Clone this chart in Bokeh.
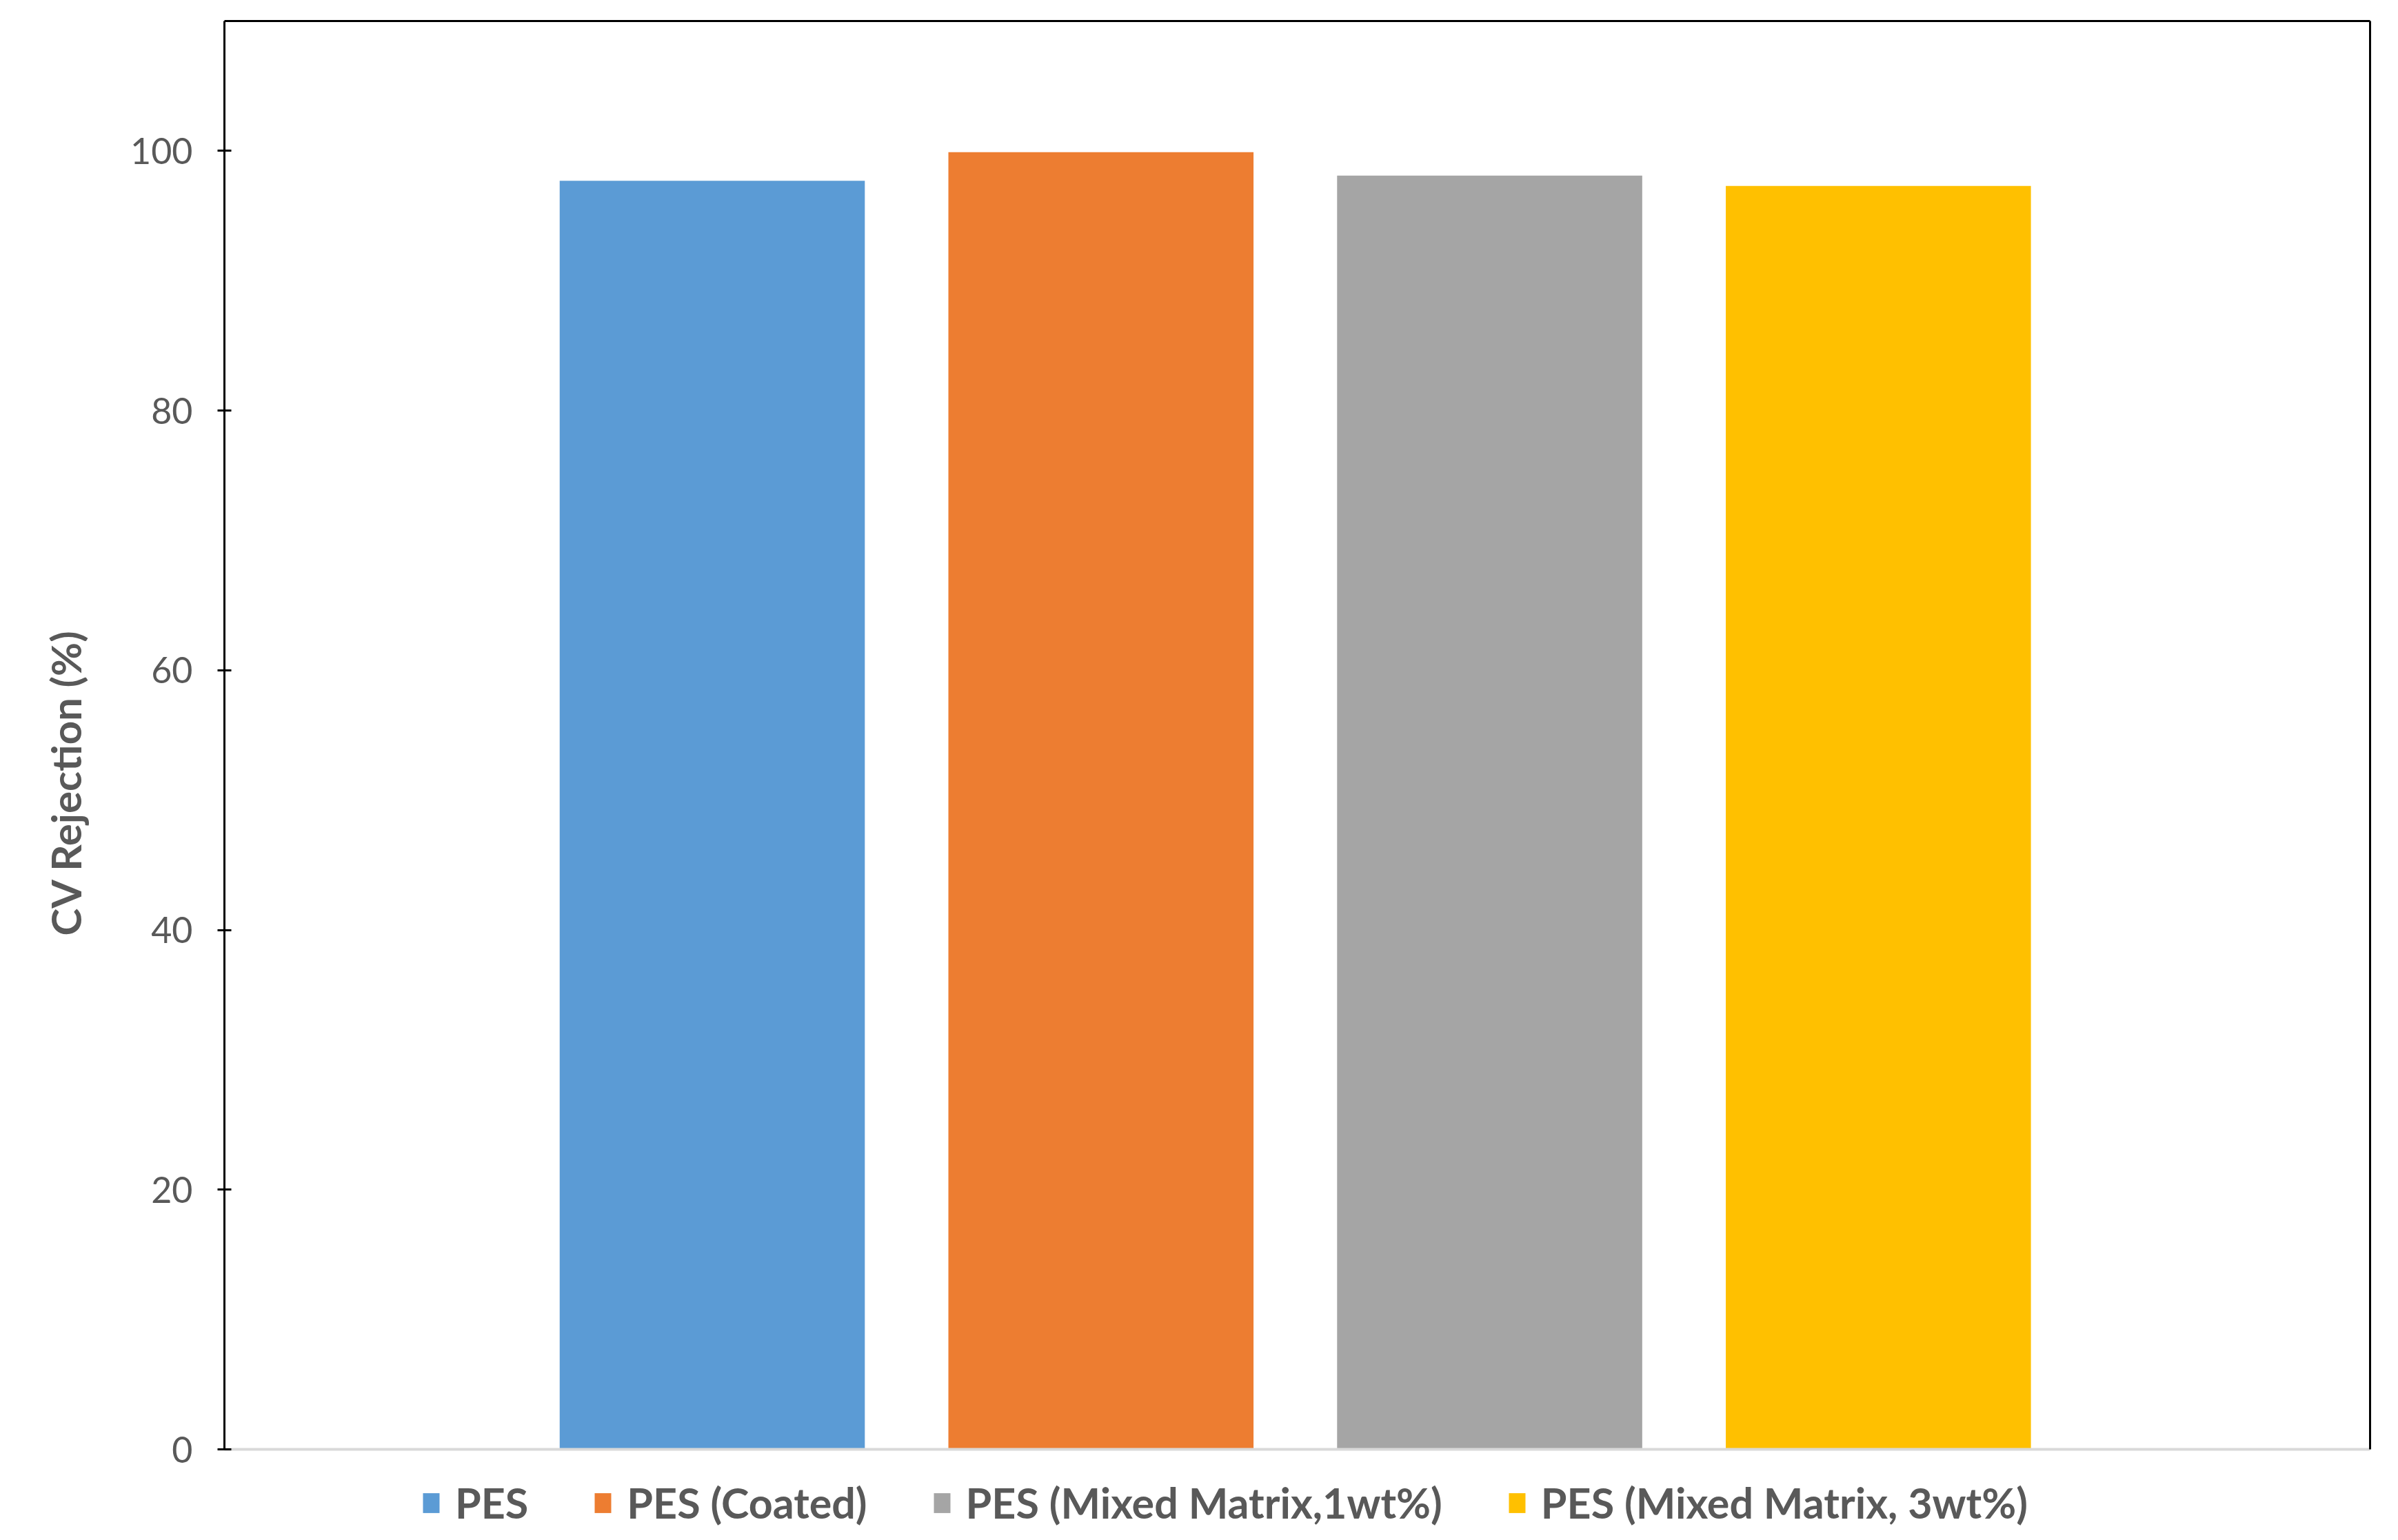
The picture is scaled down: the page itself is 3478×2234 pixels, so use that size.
from bokeh.plotting import figure
from bokeh.layouts import column
from bokeh.models import ColumnDataSource, Range1d, LinearAxis, Legend, LegendItem, FixedTicker, Title
from bokeh.embed import file_html
from bokeh.resources import INLINE

# ---- data ----
series = ["PES", "PES (Coated)", "PES (Mixed Matrix,1wt%)", "PES (Mixed Matrix, 3wt%)"]
rejection = [97.7, 99.9, 98.1, 97.3]
colors = ["#5B9BD5", "#ED7D31", "#A5A5A5", "#FFC000"]
y_ticks = [0, 20, 40, 60, 80, 100]
y_label = "CV Rejection (%)"

FONT = "Lato"
TXT = "#595959"

p = figure(width=3460, height=2132, output_backend="svg", toolbar_location=None,
           x_range=Range1d(-1.255, 4.265), y_range=Range1d(0, 110),
           min_border_left=321, min_border_right=23, min_border_top=30, min_border_bottom=30)
p.outline_line_color = None
p.xgrid.visible = False
p.ygrid.visible = False

for i, (s, v, c) in enumerate(zip(series, rejection, colors)):
    src = ColumnDataSource(dict(x=[i], top=[v]))
    p.vbar(x="x", top="top", width=0.785, bottom=0, source=src,
           fill_color=c, line_color=None)

# y axis
ya = p.yaxis[0]
ya.ticker = FixedTicker(ticks=y_ticks)
ya.minor_tick_line_color = None
ya.axis_line_color = "black"
ya.axis_line_width = 3
ya.major_tick_line_color = "black"
ya.major_tick_line_width = 3
ya.major_tick_in = 10
ya.major_tick_out = 10
ya.major_label_text_font = FONT
ya.major_label_text_font_size = "52px"
ya.major_label_text_color = TXT
ya.major_label_standoff = 36

# y-axis title (as a side title so it can be offset along the axis)
yt = Title(text=y_label, align="left", offset=745,
           text_font=FONT, text_font_size="60px", text_font_style="bold",
           text_color=TXT)
try:
    yt.standoff = 112
except Exception:
    pass
p.add_layout(yt, "left")

# x axis (just a light baseline)
xa = p.xaxis[0]
xa.ticker = FixedTicker(ticks=[])
xa.major_tick_line_color = None
xa.minor_tick_line_color = None
xa.major_label_text_font_size = "0px"
xa.major_label_standoff = 0
xa.axis_line_color = "#D9D9D9"
xa.axis_line_width = 4

# frame lines on top and right
for side in ("right", "above"):
    ax = LinearAxis(ticker=FixedTicker(ticks=[]), major_tick_line_color=None,
                    minor_tick_line_color=None, major_label_text_font_size="0px",
                    axis_line_color="black", axis_line_width=3)
    p.add_layout(ax, side)

# legend strip below the chart (its bars lie outside its visible range)
lg = figure(width=3460, height=84, output_backend="svg", toolbar_location=None,
            x_axis_type=None, y_axis_type=None, min_border=0,
            x_range=Range1d(-1, 4), y_range=Range1d(1000, 1001))
lg.outline_line_color = None
lg.xgrid.visible = False
lg.ygrid.visible = False
items = []
for i, (s, v, c) in enumerate(zip(series, rejection, colors)):
    r = lg.vbar(x=[i], top=[v], width=0.785, fill_color=c, line_color=None)
    items.append(LegendItem(label=s, renderers=[r]))
legend = Legend(items=items, orientation="horizontal", location=(285, 0),
                label_text_font=FONT, label_text_font_style="bold",
                label_text_color=TXT, label_text_font_size="61px",
                glyph_width=30, glyph_height=36, label_standoff=20, spacing=93,
                border_line_color=None, background_fill_alpha=0, margin=0, padding=0)
lg.add_layout(legend, "center")

layout = column(p, lg, spacing=0)
open("out.html", "w").write(file_html(layout, INLINE))
